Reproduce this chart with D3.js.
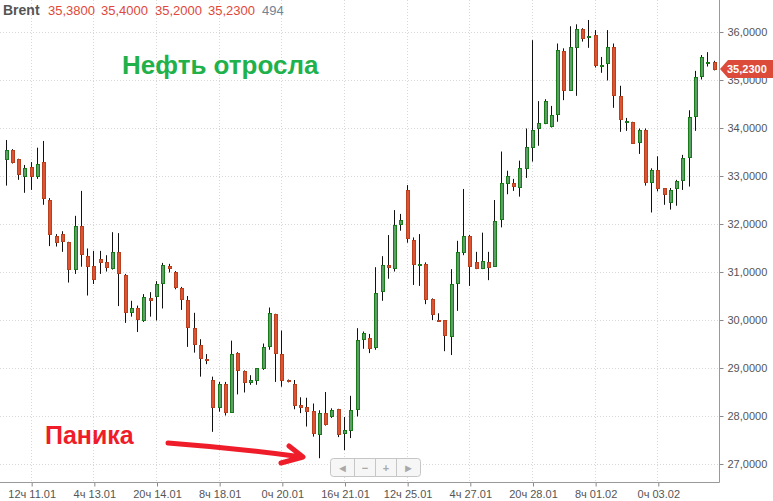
<!DOCTYPE html>
<html>
<head>
<meta charset="utf-8">
<script src="https://cdn.jsdelivr.net/npm/d3@7"></script>
<style>
  body { margin: 0; background: #fff; }
  svg { display: block; font-family: "Liberation Sans", Arial, sans-serif; }
</style>
</head>
<body>
<svg id="chart" width="773" height="501"></svg>
<script>
// 4-hour Brent candles
var opens = [33.35,33.54,33.35,32.99,33.18,33.01,33.29,32.50,31.75,31.79,
  31.62,31.06,31.95,31.33,31.12,31.27,31.21,31.09,31.41,30.93,
  30.16,30.24,29.99,30.45,30.49,30.78,31.13,31.01,30.67,30.42,
  29.83,29.47,29.19,28.75,28.19,28.66,28.09,29.31,28.94,28.70,
  28.74,29.01,29.45,30.12,29.29,28.75,28.66,28.23,28.19,28.10,
  27.62,28.06,28.01,28.14,27.64,27.71,28.14,29.61,29.62,29.43,
  30.60,31.14,31.09,31.99,32.71,31.67,31.15,31.17,30.44,30.01,
  29.99,29.67,30.78,31.42,31.75,31.20,31.09,31.20,31.13,32.10,
  32.85,32.85,32.78,33.16,33.60,34.01,34.11,34.05,34.29,35.60,
  34.80,35.69,36.06,35.89,35.93,35.29,35.35,35.68,34.66,34.12,
  34.12,33.70,33.95,32.87,33.12,32.74,32.45,32.74,32.91,33.39,
  34.24,35.08,35.35,35.38];
var highs = [33.75,33.56,33.36,33.23,33.29,33.59,33.73,32.54,31.79,31.85,
  31.63,32.17,32.69,31.49,31.44,31.44,31.35,31.83,31.81,30.96,
  30.40,30.30,30.54,30.58,30.81,31.19,31.17,31.02,30.69,30.50,
  30.15,29.60,29.29,28.82,28.71,28.71,29.57,29.33,28.95,28.85,
  29.00,29.51,30.26,30.13,29.78,28.76,28.75,28.39,28.38,28.26,
  28.12,28.50,28.16,28.15,27.98,28.42,29.83,29.76,29.71,31.10,
  31.33,31.77,32.29,32.21,32.81,31.72,31.79,31.20,30.45,30.14,
  30.00,31.06,31.65,32.73,31.77,31.42,31.82,31.42,32.50,33.51,
  33.11,32.94,33.32,33.99,35.83,34.56,34.60,34.46,35.76,35.66,
  36.12,36.16,36.08,36.25,36.04,35.48,36.04,35.76,34.88,34.21,
  34.13,33.99,33.99,33.16,33.41,32.75,32.75,32.92,33.44,34.37,
  35.19,35.52,35.58,35.40];
var lows = [32.80,33.26,32.92,32.65,32.71,32.94,32.40,31.54,31.53,31.42,
  30.78,30.96,31.11,30.51,30.75,30.96,31.01,31.05,30.29,29.94,
  30.07,29.75,29.96,30.07,29.99,30.24,30.99,30.64,30.21,29.44,
  29.32,28.82,29.08,27.67,28.09,28.01,28.07,28.45,28.49,28.65,
  28.65,28.96,29.38,28.71,28.61,28.70,28.14,28.06,27.78,27.57,
  27.12,27.80,27.96,27.56,27.29,27.54,27.99,29.40,29.31,29.38,
  30.40,30.86,31.01,31.86,31.61,30.73,30.71,30.33,30.00,29.96,
  29.35,29.27,30.19,31.35,30.71,31.06,31.06,30.83,31.11,31.93,
  32.62,32.69,32.57,32.96,33.30,33.63,34.08,34.01,34.13,34.58,
  34.77,34.67,35.80,35.67,35.26,35.15,34.99,34.42,33.92,33.94,
  33.67,33.46,32.80,32.24,32.68,32.40,32.30,32.38,32.71,32.78,
  33.94,35.01,35.28,35.20];
var closes = [33.54,33.30,33.04,33.16,32.99,33.26,32.55,31.79,31.63,31.65,
  31.06,31.95,31.37,31.13,30.86,31.21,31.11,31.41,30.97,30.16,
  30.24,30.03,30.47,30.42,30.74,31.14,31.09,30.69,30.44,29.86,
  29.51,29.20,29.16,28.18,28.66,28.09,29.29,28.95,28.70,28.74,
  28.99,29.43,30.14,29.31,28.75,28.72,28.22,28.19,28.11,27.64,
  28.06,27.83,28.12,27.62,27.71,28.12,29.58,29.72,29.41,30.56,
  31.14,31.11,31.97,32.08,31.71,31.17,31.17,30.44,30.12,29.98,
  29.69,30.76,31.42,31.75,31.13,31.09,31.23,31.11,32.06,32.85,
  33.01,32.80,33.16,33.60,33.95,34.10,34.56,34.27,35.62,34.80,
  35.68,36.06,35.88,35.92,35.32,35.31,35.68,34.69,34.18,34.15,
  33.68,33.95,32.87,33.12,32.76,32.62,32.71,32.90,33.37,34.22,
  35.06,35.47,35.37,35.23];

// time labels sit on every 10th candle, starting at candle 4
var timeLabels = ["12ч 11.01","4ч 13.01","20ч 14.01","8ч 18.01","0ч 20.01","16ч 21.01",
  "12ч 25.01","4ч 27.01","20ч 28.01","8ч 01.02","0ч 03.02"];
var labelIdx = [4,14,24,34,44,54,64,74,84,94,104];
var priceTicks = [27,28,29,30,31,32,33,34,35,36];

var header = { name: "Brent", o: "35,3800", h: "35,4000", l: "35,2000", c: "35,2300", v: "494" };

var plotRight = 719, plotBottom = 482;

var svg = d3.select("#chart");

var x = d3.scaleLinear().domain([0, opens.length - 1]).range([6.6, 714.7]);
var y = d3.scaleLinear().domain([27, 36]).range([464, 32]);

var fmt = function (v) { return d3.format(".4f")(v).replace(".", ","); };

// grid
var grid = svg.append("g");
grid.selectAll(".hg")
    .data(priceTicks)
    .enter().append("line")
    .attr("x1", 0).attr("x2", plotRight)
    .attr("y1", function (d) { return Math.round(y(d)) + 0.5; })
    .attr("y2", function (d) { return Math.round(y(d)) + 0.5; })
    .style("stroke", "#d8d8d8").style("stroke-dasharray", "1,2");
grid.selectAll(".vg")
    .data(labelIdx)
    .enter().append("line")
    .attr("y1", 0).attr("y2", plotBottom)
    .attr("x1", function (d) { return Math.round(x(d)) - 0.5; })
    .attr("x2", function (d) { return Math.round(x(d)) - 0.5; })
    .style("stroke", "#d8d8d8").style("stroke-dasharray", "1,2");

// axes
var yAxis = d3.axisRight(y).tickValues(priceTicks).tickSize(4).tickPadding(4).tickFormat(fmt);
svg.append("g")
    .attr("transform", "translate(" + (plotRight + 0.5) + ",0)")
    .call(yAxis)
    .call(function (g) {
        g.select(".domain").remove();
        g.selectAll("line").style("stroke", "#888");
        g.selectAll("text").style("fill", "#555").style("font-size", "11px")
            .style("font-family", "'Liberation Sans', Arial, sans-serif");
    });

var xAxis = d3.axisBottom(x).tickValues(labelIdx).tickSize(4).tickPadding(4)
    .tickFormat(function (d, i) { return timeLabels[i]; });
svg.append("g")
    .attr("transform", "translate(0," + (plotBottom + 0.5) + ")")
    .call(xAxis)
    .call(function (g) {
        g.select(".domain").remove();
        g.selectAll("line").style("stroke", "#888");
        g.selectAll("text").style("fill", "#555").style("font-size", "11px")
            .style("font-family", "'Liberation Sans', Arial, sans-serif");
    });

svg.append("line")
    .attr("x1", plotRight + 0.5).attr("x2", plotRight + 0.5)
    .attr("y1", 0).attr("y2", plotBottom + 0.5)
    .style("stroke", "#999");
svg.append("line")
    .attr("x1", 0).attr("x2", plotRight + 0.5)
    .attr("y1", plotBottom + 0.5).attr("y2", plotBottom + 0.5)
    .style("stroke", "#999");

// candles
var idx = d3.range(opens.length);
var candles = svg.append("g").selectAll("g")
    .data(idx)
    .enter().append("g");

candles.append("line")
    .attr("x1", function (i) { return Math.round(x(i)) - 0.5; })
    .attr("x2", function (i) { return Math.round(x(i)) - 0.5; })
    .attr("y1", function (i) { return y(highs[i]); })
    .attr("y2", function (i) { return y(lows[i]); })
    .style("stroke", "#111");

candles.append("rect")
    .attr("x", function (i) { return Math.round(x(i)) - 1.5; })
    .attr("width", 3)
    .attr("y", function (i) { return Math.round(y(Math.max(opens[i], closes[i]))) + 0.5; })
    .attr("height", function (i) {
        return Math.max(0.5, Math.round(y(Math.min(opens[i], closes[i]))) - Math.round(y(Math.max(opens[i], closes[i]))));
    })
    .style("fill", function (i) { return closes[i] >= opens[i] ? "#5c9e66" : "#dd5434"; })
    .style("stroke", function (i) { return closes[i] >= opens[i] ? "#187a18" : "#b8401f"; })
    .style("stroke-width", 1);

// last price tag
var last = closes[closes.length - 1];
var ly = Math.round(y(last));
svg.append("path")
    .attr("d", "M" + (plotRight + 1) + "," + ly + " L" + (plotRight + 9) + "," + (ly - 9) +
        " L773," + (ly - 9) + " L773," + (ly + 9) + " L" + (plotRight + 9) + "," + (ly + 9) + " Z")
    .style("fill", "#dc4a3a");
svg.append("text")
    .attr("x", 727).attr("y", ly + 4)
    .style("fill", "#fff").style("font-size", "11px").style("font-weight", "bold")
    .text(fmt(last));

// header
var hdr = svg.append("g").style("font-size", "13px");
hdr.append("text").attr("x", 3).attr("y", 15).style("font-weight", "bold").style("fill", "#555")
    .style("font-size", "14px").text(header.name);
[[header.o, 48], [header.h, 101], [header.l, 155], [header.c, 208]].forEach(function (p) {
    hdr.append("text").attr("x", p[1]).attr("y", 15).style("fill", "#e0483a").text(p[0]);
});
hdr.append("text").attr("x", 262).attr("y", 15).style("fill", "#6e8499").text(header.v);

// annotations
svg.append("text")
    .attr("x", 122).attr("y", 74)
    .style("font-size", "26px").style("font-weight", "bold").style("fill", "#21b14b")
    .text("Нефть отросла");
svg.append("text")
    .attr("x", 45).attr("y", 444)
    .style("font-size", "25px").style("font-weight", "bold").style("fill", "#ef1d2a")
    .text("Паника");
svg.append("path")
    .attr("d", "M168,443 Q235,448 302,457 M289,446 L303,457 L281,463")
    .style("fill", "none").style("stroke", "#ef1d2a").style("stroke-width", 5)
    .style("stroke-linecap", "round").style("stroke-linejoin", "round");

// scroll / zoom buttons
var nav = svg.append("g").attr("transform", "translate(330.5,458.5)");
nav.append("rect").attr("width", 90).attr("height", 18).attr("rx", 3)
    .style("fill", "#f6f6f6").style("stroke", "#c6c6c6");
[24, 45, 66].forEach(function (d) {
    nav.append("line").attr("x1", d).attr("x2", d).attr("y1", 0).attr("y2", 18).style("stroke", "#c6c6c6");
});
[["◄", 12], ["−", 34.5], ["+", 55.5], ["►", 78]].forEach(function (b) {
    nav.append("text").attr("x", b[1]).attr("y", 13).attr("text-anchor", "middle")
        .style("font-size", "11px").style("fill", "#a8a8a8").style("font-weight", "bold").text(b[0]);
});
</script>
</body>
</html>
